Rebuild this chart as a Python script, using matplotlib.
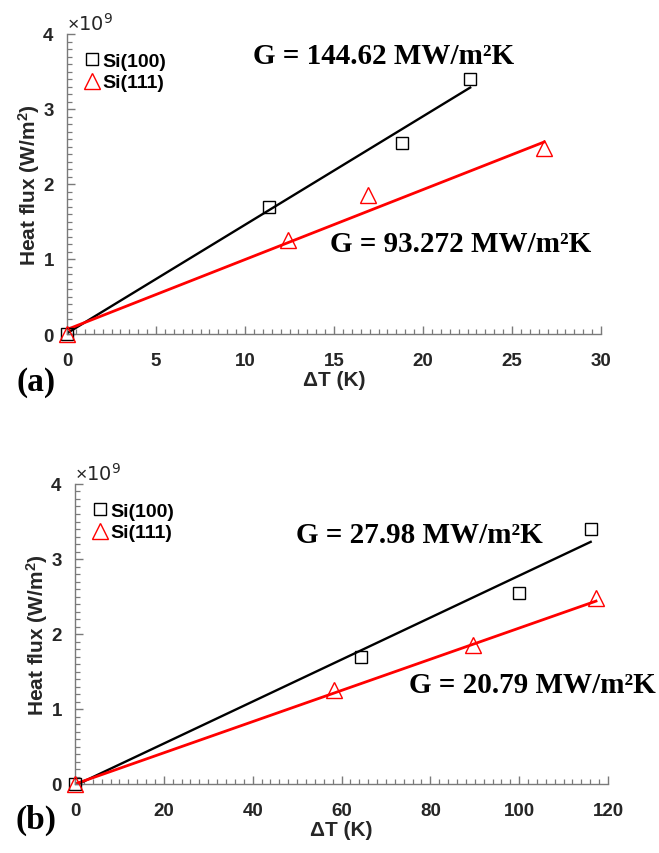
import matplotlib
matplotlib.use("Agg")
import matplotlib.pyplot as plt
import numpy as np
from matplotlib.ticker import MultipleLocator, ScalarFormatter

plt.rcParams["mathtext.fontset"] = "custom"
plt.rcParams["mathtext.rm"] = "Liberation Sans"
plt.rcParams["mathtext.bf"] = "Liberation Sans:bold"
plt.rcParams["mathtext.it"] = "Liberation Sans:italic"

SANS = "Liberation Sans"
SERIF = "Liberation Serif"

# Heat flux (W/m^2) at each temperature drop
flux_100 = [0.0, 1.70e9, 2.55e9, 3.40e9]
flux_111 = [0.0, 1.25e9, 1.85e9, 2.48e9]

# (a) temperature drop across the interface (K)
dT_a_100 = [0.0, 11.35, 18.8, 22.65]
dT_a_111 = [0.0, 12.4, 16.9, 26.8]
G_a = [144.62e6, 93.272e6]          # W/m^2K
b_a = [0.01e9, 0.06e9]              # fit intercepts

# (b) temperature drop (K)
dT_b_100 = [0.0, 64.3, 100.0, 116.1]
dT_b_111 = [0.0, 58.2, 89.5, 117.3]
G_b = [27.98e6, 20.79e6]
b_b = [-0.02e9, 0.0]

labels = ["Si(100)", "Si(111)"]
G_text_a = ["G = 144.62 MW/m²K", "G = 93.272 MW/m²K"]
G_text_b = ["G = 27.98 MW/m²K", "G = 20.79 MW/m²K"]

SPINE = "#7a7a7a"
TXT = "#262626"

fig = plt.figure(figsize=(6.59, 8.54), dpi=100)
ax_a = fig.add_axes([67 / 659, (854 - 335) / 854, 534 / 659, 300 / 854])
ax_b = fig.add_axes([75 / 659, (854 - 785) / 854, 533 / 659, 300 / 854])


def style(ax, xmax, xmajor, xminor):
    ax.set_xlim(0, xmax)
    ax.set_ylim(0, 4e9)
    for s in ("top", "right"):
        ax.spines[s].set_visible(False)
    for s in ("left", "bottom"):
        ax.spines[s].set_color(SPINE)
        ax.spines[s].set_linewidth(1.0)
    ax.xaxis.set_major_locator(MultipleLocator(xmajor))
    ax.xaxis.set_minor_locator(MultipleLocator(xminor))
    ax.yaxis.set_major_locator(MultipleLocator(1e9))
    ax.yaxis.set_minor_locator(MultipleLocator(1e8))
    fmt = ScalarFormatter(useMathText=True)
    fmt.set_powerlimits((0, 0))
    ax.yaxis.set_major_formatter(fmt)
    ax.tick_params(which="both", direction="in", color=SPINE, labelcolor=TXT)
    ax.tick_params(which="major", length=6, width=1.0, labelsize=13.5)
    ax.tick_params(which="minor", length=3.5, width=0.9)
    ax.tick_params(axis="x", which="major", pad=13)
    ax.tick_params(axis="y", which="major", pad=9)
    for lab in ax.get_xticklabels() + ax.get_yticklabels():
        lab.set_fontfamily(SANS)
        lab.set_fontweight("bold")
    off = ax.yaxis.get_offset_text()
    off.set_fontsize(14)
    off.set_color(TXT)
    ax.set_xlabel("ΔT (K)", fontsize=15, fontweight="bold", family=SANS,
                  color=TXT, labelpad=1)
    ax.set_ylabel(r"Heat flux (W/m$^{\mathbf{2}}$)", fontsize=15,
                  fontweight="bold", family=SANS, color=TXT, labelpad=0)


def draw(ax, dT100, dT111, G, b, texts, tpos):
    for dT, g, c, col, lw in (
        (dT100, G[0], b[0], "black", 1.7),
        (dT111, G[1], b[1], "red", 2.0),
    ):
        xs = np.array([0.0, max(dT)])
        ax.plot(xs, g * xs + c, color=col, lw=lw, zorder=2)
    ax.plot(dT100, flux_100, ls="none", marker="s", ms=8.5, mfc="none",
            mec="black", mew=1.0, clip_on=False, zorder=3, label=labels[0])
    ax.plot(dT111, flux_111, ls="none", marker="^", ms=12, mfc="none",
            mec="red", mew=1.0, clip_on=False, zorder=3, label=labels[1])
    leg = ax.legend(loc="upper left", bbox_to_anchor=(0.02, 0.965),
                    frameon=False, handlelength=0.7, handletextpad=0.15,
                    labelspacing=0.2, borderaxespad=0.0,
                    prop={"family": SANS, "weight": "bold", "size": 14})
    for t in leg.get_texts():
        t.set_color("black")
    for txt, (x, y) in zip(texts, tpos):
        ax.text(x, y, txt, family=SERIF, fontweight="bold", fontsize=21,
                ha="left", va="center", color="black", clip_on=False)


style(ax_a, 30, 5, 0.5)
style(ax_b, 120, 20, 2)
draw(ax_a, dT_a_100, dT_a_111, G_a, b_a, G_text_a,
     [(10.45, 3.71e9), (14.8, 1.2e9)])
draw(ax_b, dT_b_100, dT_b_111, G_b, b_b, G_text_b,
     [(49.8, 3.33e9), (75.2, 1.33e9)])

fig.text(36 / 659, 1 - 382 / 854, "(a)", family=SERIF, fontweight="bold",
         fontsize=24, ha="center", va="center")
fig.text(36 / 659, 1 - 820 / 854, "(b)", family=SERIF, fontweight="bold",
         fontsize=24, ha="center", va="center")

fig.savefig("out.png", dpi=100)
